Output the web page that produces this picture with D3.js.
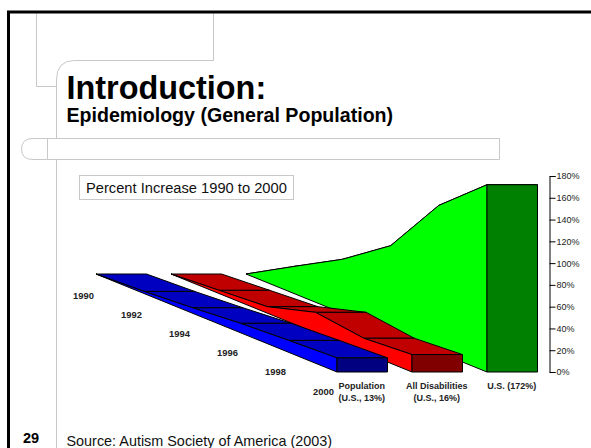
<!DOCTYPE html>
<html><head><meta charset="utf-8">
<script src="https://cdn.jsdelivr.net/npm/d3@7"></script>
<style>html,body{margin:0;padding:0;background:#fff;overflow:hidden}svg{display:block}text{font-family:"Liberation Sans",Arial,sans-serif}</style>
</head><body><svg id="c" width="591" height="448"></svg>
<script>
const years = ["1990","1992","1994","1996","1998","2000"];
const seriesNames = ["U.S.","All Disabilities","Population"];
const usValues = [0,25,49.5,80,135,172];
const disabilityValues = [0,3,6,18.8,13,16];
const populationValues = [0,2,5,8.7,11,13];
const tickValues = [0,20,40,60,80,100,120,140,160,180];
const seriesLabels = {"Population":["Population","(U.S., 13%)"],"All Disabilities":["All Disabilities","(U.S., 16%)"],"U.S.":["U.S. (172%)"]};

const svg = d3.select("#c");
const gray = "#c8c8c8";
// slide furniture
const deco = svg.append("g").attr("fill","none").attr("stroke",gray).attr("stroke-width",1);
deco.append("path").attr("d","M36.5 12V86.5H56.5M213.5 12V60.5H74.5Q56.5 60.5 56.5 80V138.5M56.5 159.5V448");
deco.append("path").attr("d","M47.5 138.5H33Q21.5 138.5 21.5 149T33 159.5H47.5V138.5H499.5V159.5H47.5");
svg.append("path").attr("d","M8.5 448V12H591").attr("fill","none").attr("stroke","#000").attr("stroke-width",3);

svg.append("text").attr("x",66.5).attr("y",98.5).attr("font-size",32.4).attr("font-weight","bold").text("Introduction:");
svg.append("text").attr("x",66.5).attr("y",121.5).attr("font-size",19.6).attr("font-weight","bold").text("Epidemiology (General Population)");
svg.append("rect").attr("x",79.5).attr("y",175.5).attr("width",214).attr("height",24).attr("fill","#fff").attr("stroke",gray);
svg.append("text").attr("x",86).attr("y",193).attr("font-size",14.7).attr("fill","#111").text("Percent Increase 1990 to 2000");
svg.append("text").attr("x",66.5).attr("y",445.5).attr("font-size",14.4).attr("fill","#111").text("Source: Autism Society of America (2003)");
svg.append("text").attr("x",23).attr("y",443).attr("font-size",14.5).attr("font-weight","bold").text("29");

// scales
const y = d3.scaleLinear().domain([0,180]).range([372,176]);
const depthX = d3.scalePoint().domain(years).range([0,241]);
const depthY = d3.scalePoint().domain(years).range([-98,0]);
const seriesX = d3.scalePoint().domain(["Population","All Disabilities","U.S."]).range([337,487]);
const labelX = d3.scalePoint().domain(years).range([73,313]);
const labelY = d3.scalePoint().domain(years).range([299,394.5]);
const barW = 50.5;
const px = (s,yr)=>seriesX(s)+depthX(yr)-241;
const py = (v,yr)=>y(v)+depthY(yr);
const line = d3.line();

const styles = {
 "U.S.":{side:"#00ff00",top:"#00c000",front:"#008000"},
 "All Disabilities":{side:"#ff0000",top:"#c00000",front:"#800000"},
 "Population":{side:"#0000ff",top:"#0000c0",front:"#000080"}
};
const valuesOf = {"U.S.":usValues,"All Disabilities":disabilityValues,"Population":populationValues};
const chart = svg.append("g").attr("stroke","#000").attr("stroke-width",1).attr("stroke-linejoin","round");
seriesNames.forEach(s=>{
  const vals = valuesOf[s], st = styles[s];
  d3.pairs(years.map((yr,i)=>({yr,v:vals[i]}))).forEach(([a,b])=>{
    chart.append("path").attr("fill",st.top).attr("d",line([
      [px(s,a.yr),py(a.v,a.yr)],[px(s,a.yr)+barW,py(a.v,a.yr)],
      [px(s,b.yr)+barW,py(b.v,b.yr)],[px(s,b.yr),py(b.v,b.yr)]])+"Z");
  });
  const topEdge = years.map((yr,i)=>[px(s,yr),py(vals[i],yr)]);
  const baseEdge = [[px(s,"2000"),py(0,"2000")],[px(s,"1990"),py(0,"1990")]];
  chart.append("path").attr("fill",st.side).attr("d",line(topEdge.concat(baseEdge))+"Z");
  const last = vals[vals.length-1];
  chart.append("rect").attr("x",px(s,"2000")).attr("y",y(last)).attr("width",barW).attr("height",y(0)-y(last)).attr("fill",st.front);
});

// value axis
const axis = d3.axisRight(y).tickValues(tickValues).tickSize(6).tickPadding(1).tickFormat(d=>d+"%");
const ax = svg.append("g").attr("transform","translate(549.5,0)").call(axis);
ax.selectAll("text").attr("font-size",9).attr("fill","#222").style("font-family",'"Liberation Sans",Arial,sans-serif');
ax.selectAll("line,path").attr("stroke","#000");

// depth labels
const lab = svg.append("g").attr("font-size",9.4).attr("font-weight","bold").attr("fill","#222");
years.forEach(yr=>{
  lab.append("text").attr("x",labelX(yr)).attr("y",labelY(yr)).text(yr);
});
// series labels
const serLab = svg.append("g").attr("font-size",9).attr("font-weight","bold").attr("fill","#222");
Object.keys(seriesLabels).forEach(s=>{
  seriesLabels[s].forEach((t,i)=>{
    serLab.append("text").attr("x",seriesX(s)+barW/2-0.5).attr("y",389+i*12).attr("text-anchor","middle").text(t);
  });
});
</script></body></html>
